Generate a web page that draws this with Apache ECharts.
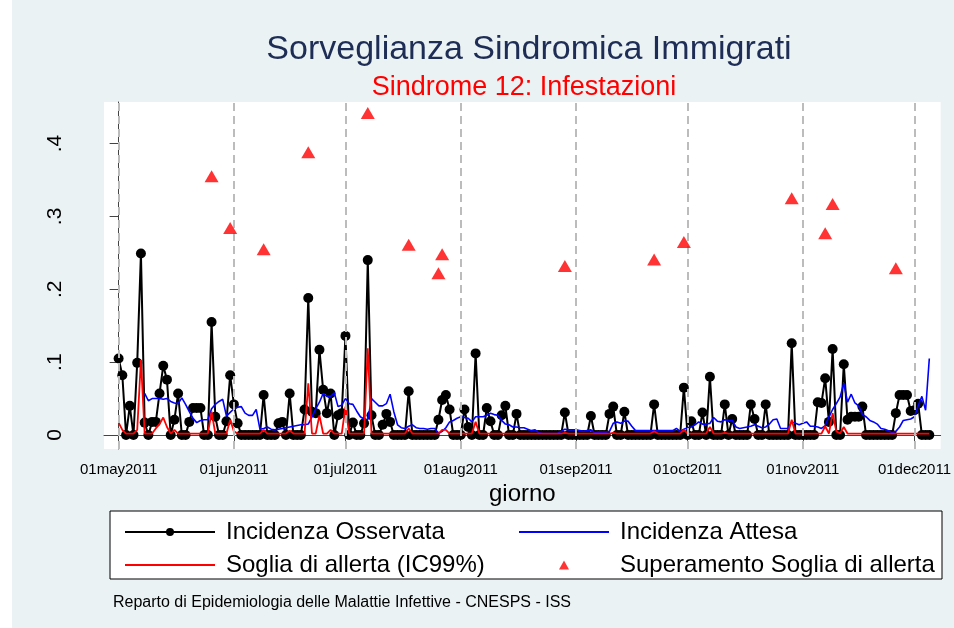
<!DOCTYPE html>
<html><head><meta charset="utf-8">
<script src="https://cdn.jsdelivr.net/npm/echarts@6/dist/echarts.min.js"></script>
<style>html,body{margin:0;padding:0;background:#fff}#c{width:954px;height:628px}</style>
</head><body><div id="c"></div>
<script>
// day index 0 = 01may2011
const observed = [
.105,.082,0,.04,0,.099,.249,.017,0,.018,
.018,.057,.095,.076,0,.021,.057,0,0,.018,
.037,.037,.037,0,0,.155,.025,0,0,.019,
.082,.042,.016,0,0,0,0,0,0,.055,
0,0,0,.016,.018,0,.057,0,0,0,
.035,.188,.032,.03,.117,.062,.03,.057,0,.027,
.03,.136,0,.017,0,0,.016,.240,.027,0,
0,.014,.029,.018,0,0,0,0,.06,0,
0,0,0,0,0,0,.021,.048,.055,.035,
0,0,0,.035,.011,0,.112,0,0,.037,
.019,0,0,.027,.04,0,0,.029,0,0,
0,0,0,0,0,0,0,0,0,0,
.031,0,0,0,0,0,0,.026,0,0,
0,0,.029,.039,0,0,.032,0,0,0,
0,0,0,0,.042,0,0,0,0,0,
0,0,.065,0,.019,0,0,.031,0,.08,
0,0,0,.042,0,.022,0,0,0,0,
.042,.022,0,0,.042,0,0,0,0,0,
0,.126,0,0,0,0,0,0,.045,.044,
.078,.018,.118,0,0,.097,.021,.025,.025,.025,
.039,0,0,0,0,0,0,0,0,.03,
.055,.055,.055,.033,.034,.043,0,0,0
];
const expected = [
null,null,null,null,null,null,null,.057,.047,.050,
.050,.050,.049,.050,.046,.044,.043,.051,.042,.032,
.023,.017,.020,.021,.021,.036,.042,.046,.049,.026,
.031,.036,.038,.039,.030,.027,.027,.035,.008,.009,
.011,.008,.007,.008,.009,.010,.011,.012,.013,.014,
.014,.015,.025,.036,.045,.057,.053,.053,.058,.039,
.041,.050,.043,.042,.033,.025,.022,.021,.050,.045,
.040,.040,.043,.056,.032,.014,.010,.009,.012,.014,
.010,.009,.009,.008,.009,.009,.002,.005,.010,.018,
.020,.023,.025,.024,.023,.018,.025,.025,.025,.027,
.030,.028,.027,.020,.015,.014,.011,.011,.010,.010,
.008,.006,.007,.003,.002,.002,.002,.002,.002,.005,
.008,.007,.007,.007,.006,.005,.006,.007,.003,.004,
.004,.004,.005,.016,.018,.016,.019,.019,.012,.006,
.006,.006,.006,.006,.006,.006,.006,.006,.006,.006,
.009,.005,.008,.010,.011,.014,.018,.015,.015,.016,
.024,.019,.018,.021,.020,.020,.011,.009,.010,.011,
.012,.014,.012,.010,.011,.015,.021,.022,.009,.009,
.009,.018,.016,.014,.016,.018,.012,.012,.011,.009,
.013,.025,.035,.043,.052,.071,.045,.056,.044,.040,
.028,.025,.020,.018,.015,.009,.008,.006,.003,.005,
.011,.020,.021,.022,.025,.040,.053,.034,.105
];
const threshold = [
.017,.007,.002,.002,.002,.007,.103,.002,.002,.002,
.009,.015,.024,.011,.002,.007,.002,.002,.002,.002,
.002,.002,.002,.002,.002,.032,.002,.002,.002,.002,
.021,.005,.002,.002,.002,.002,.002,.002,.002,.007,
.002,.002,.002,.002,.002,.002,.006,.002,.002,.002,
.002,.071,.002,.002,.027,.002,.002,.007,.002,.002,
.002,.039,.002,.002,.002,.002,.002,.119,.002,.002,
.002,.002,.002,.002,.002,.002,.002,.002,.009,.002,
.002,.002,.002,.002,.002,.002,.002,.007,.007,.002,
.002,.002,.002,.002,.002,.002,.018,.002,.002,.002,
.002,.002,.002,.002,.002,.002,.002,.002,.002,.002,
.002,.002,.002,.002,.002,.002,.002,.002,.002,.002,
.003,.002,.002,.002,.002,.002,.002,.002,.002,.002,
.002,.002,.002,.003,.002,.002,.002,.002,.002,.002,
.002,.002,.002,.002,.005,.002,.002,.002,.002,.002,
.002,.002,.007,.002,.002,.002,.002,.002,.002,.011,
.002,.002,.002,.003,.002,.002,.002,.002,.002,.002,
.002,.002,.002,.002,.002,.002,.002,.002,.002,.002,
.002,.021,.002,.002,.002,.002,.002,.002,.002,.002,
.012,.002,.030,.005,.002,.011,.002,.002,.002,.002,
.002,.002,.002,.002,.002,.002,.002,.002,.002,.002,
.002,.002,.002,.002,.002,.002,.002,.002,.002
];
const alertDays   = [25,30,39,51,67,78,86,87,120,144,152,181,190,192,209];
const alertValues = [.355,.284,.255,.388,.442,.261,.222,.248,.232,.241,.265,.325,.277,.317,.229];
const tickDays   = [0,31,61,92,123,153,184,214];
const tickLabels = ['01may2011','01jun2011','01jul2011','01aug2011','01sep2011','01oct2011','01nov2011','01dec2011'];
const yTicks      = [0,0.1,0.2,0.3,0.4];
const yTickLabels = ['0','.1','.2','.3','.4'];
const names = ['Incidenza Osservata','Incidenza Attesa','Soglia di allerta (IC99%)','Superamento Soglia di allerta'];

const toPairs = arr => arr.map((v,i)=>[i,v]);
const chart = echarts.init(document.getElementById('c'), null, {renderer:'canvas'});
const FONT = 'Liberation Sans, Arial, sans-serif';
// legend icons (bounding box 90x12 kept by corner points)
const BOX = 'M0,0L0,0M90,12L90,12';
const iconLine = 'path://' + BOX + 'M0,5.1H90V6.9H0Z';
const iconLineDot = 'path://' + BOX + 'M0,5.1H90V6.9H0ZM41,6A4,4,0,1,1,49,6A4,4,0,1,1,41,6Z';
const iconTri = 'path://' + BOX + 'M40,10.5L45,1.5L50,10.5Z';
const legText = {fontSize:24, color:'#000', padding:[0,0,0,6], fontFamily:FONT};
chart.setOption({
  animation:false,
  backgroundColor:'#eaf2f3',
  textStyle:{fontFamily:FONT},
  title:[
    {text:'Sorveglianza Sindromica Immigrati', left:524, top:28, textAlign:'center',
     textStyle:{fontSize:34, fontWeight:'normal', color:'#1e2d55', fontFamily:FONT}},
    {text:'Sindrome 12: Infestazioni', left:519, top:69, textAlign:'center',
     textStyle:{fontSize:27, fontWeight:'normal', color:'#ff0000', fontFamily:FONT}},
    {text:'Reparto di Epidemiologia delle Malattie Infettive - CNESPS - ISS', left:108, top:590,
     textStyle:{fontSize:16, fontWeight:'normal', color:'#000', fontFamily:FONT}}
  ],
  graphic:[
    {type:'rect', shape:{x:0,y:0,width:12,height:628}, style:{fill:'#fff'}, z:0, silent:true},
    {type:'rect', shape:{x:110,y:511,width:832,height:68},
     style:{fill:'#fff', stroke:'#000', lineWidth:1}, z:0, silent:true}],
  legend:[
    {orient:'vertical', left:120, top:515, itemWidth:90, itemHeight:12, itemGap:9,
     data:[{name:names[0], icon:iconLineDot},{name:names[2], icon:iconLine}], textStyle:legText},
    {orient:'vertical', left:514, top:515, itemWidth:90, itemHeight:12, itemGap:9,
     data:[{name:names[1], icon:iconLine},{name:names[3], icon:iconTri}], textStyle:legText}
  ],
  grid:{left:104, right:9, top:102, bottom:179, show:true, backgroundColor:'#ffffff', borderWidth:0},
  xAxis:{type:'value', min:-3.93, max:221.05,
    axisLine:{lineStyle:{color:'#444', width:1}},
    axisTick:{customValues:tickDays, length:8, lineStyle:{color:'#444'}},
    axisLabel:{customValues:tickDays, margin:13, fontSize:15, color:'#000', fontFamily:FONT,
      formatter:v=>{const i=tickDays.indexOf(Math.round(v)); return i>=0?tickLabels[i]:'';}},
    splitLine:{show:false},
    name:'giorno', nameLocation:'middle', nameGap:27,
    nameTextStyle:{fontSize:24, color:'#000', fontFamily:FONT}},
  yAxis:{type:'value', min:-0.0192, max:0.457,
    axisLine:{show:true, lineStyle:{color:'#444', width:1}},
    axisTick:{show:true, customValues:yTicks, length:9, lineStyle:{color:'#444'}},
    axisLabel:{customValues:yTicks, rotate:90, margin:38, fontSize:21, color:'#000', fontFamily:FONT,
      formatter:v=>{const i=yTicks.findIndex(t=>Math.abs(t-v)<1e-9); return i>=0?yTickLabels[i]:'';}},
    splitLine:{show:false}},
  series:[
    {type:'line', name:'_grid', data:[], z:1, silent:true,
     markLine:{silent:true, symbol:'none', label:{show:false},
       lineStyle:{color:'#bcbcbc', type:[8,5], width:2},
       data:tickDays.map(d=>({xAxis:d}))}},
    {type:'line', name:names[0], data:toPairs(observed), z:2,
     symbol:'circle', symbolSize:10, showAllSymbol:true,
     itemStyle:{color:'#000'}, lineStyle:{color:'#000', width:2}},
    {type:'line', name:names[1], data:toPairs(expected), z:3,
     symbol:'none', lineStyle:{color:'#0000ff', width:1.6}, itemStyle:{color:'#0000ff'}},
    {type:'line', name:names[2], data:toPairs(threshold), z:4,
     symbol:'none', lineStyle:{color:'#ff0000', width:1.8}, itemStyle:{color:'#ff0000'}},
    {type:'scatter', name:names[3], data:alertDays.map((d,i)=>[d,alertValues[i]]), z:5,
     symbol:'triangle', symbolSize:[14,12], itemStyle:{color:'#ff0000'}}
  ]
});
</script></body></html>
